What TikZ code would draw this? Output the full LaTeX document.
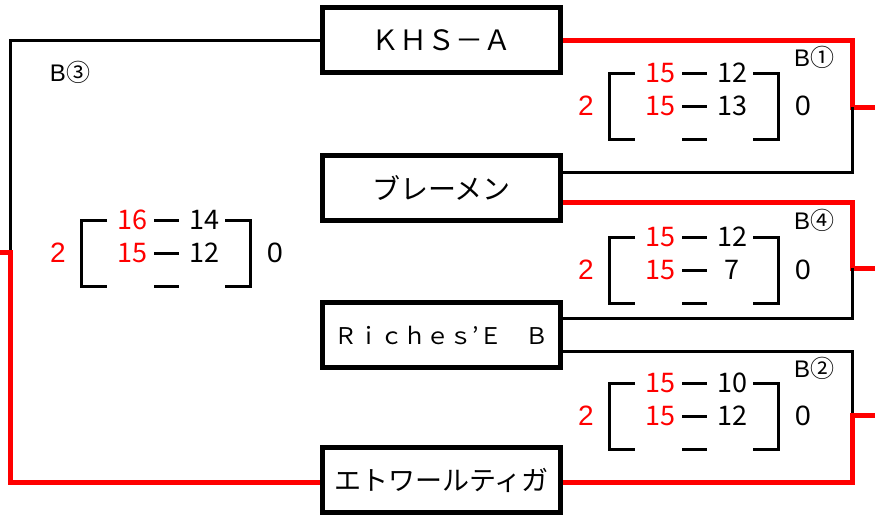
\documentclass[tikz,border=0pt]{standalone}
\usepackage{fontspec}
\setmainfont{Noto Sans CJK JP}
\newfontfamily\arialfont{Liberation Sans}
\tikzset{
  team/.style={draw, line width=5pt, minimum width=238pt, minimum height=65pt, inner sep=0pt},
  win/.style={draw=red, line width=5pt},
  lose/.style={draw=black, line width=3pt},
  frame/.style={draw=black, line width=3pt},
  pt/.style={inner sep=0pt, font=\fontsize{27}{28}\selectfont},
  tot/.style={inner sep=0pt, font=\arialfont\fontsize{28}{30}\selectfont},
  tag/.style={inner sep=0pt, font=\fontsize{24}{26}\selectfont}
}
\begin{document}
\begin{tikzpicture}[x=1pt, y=-1pt]
\useasboundingbox (0,0) rectangle (875,515);

\node[team, font=\fontsize{28}{30}\selectfont] (k) at (441.5,40) {ＫＨＳ－Ａ};
\node[team, font=\fontsize{28}{30}\selectfont] (b) at (441.5,187.5) {ブレーメン};
\node[team, font=\fontsize{23}{25}\selectfont] (r) at (441.5,335) {Ｒｉｃｈｅｓ’Ｅ　Ｂ};
\node[team, font=\fontsize{27}{29}\selectfont] (e) at (441.5,480) {エトワールティガ};

\coordinate (m1) at (852,107);
\coordinate (o1) at (875,107);
\coordinate (m4) at (852,268);
\coordinate (o4) at (875,268);
\coordinate (m2) at (852,415);
\coordinate (o2) at (875,415);
\coordinate (m3) at (10,252);
\coordinate (o3) at (0,252);

\draw[win] (k.east) -| (m1) -- (o1);
\draw[lose] ([yshift=15pt]b.east) -| (m1);
\draw[win] ([yshift=-15pt]b.east) -| (m4) -- (o4);
\draw[lose] ([yshift=17pt]r.east) -| (m4);
\draw[lose] ([yshift=-16pt]r.east) -| (m2);
\draw[win] ([yshift=-2pt]e.east) -| (m2) -- (o2);
\draw[lose] (k.west) -| (m3);
\draw[win] (o3) -- (m3) |- ([yshift=-2pt]e.west);

\begin{scope}[shift={(609,73)}]
\draw[frame] (26,0)--(0,0)--(0,66)--(26,66);
\draw[frame] (144,0)--(169,0)--(169,66)--(144,66);
\draw[frame] (73,0)--(98,0);
\draw[frame] (73,33)--(98,33);
\draw[frame] (73,66)--(98,66);
\node[pt, red] (a1) at (51,0) {15};
\node[pt] (b1) at (123,0) {12};
\node[pt, red] (c1) at (51,33) {15};
\node[pt] (d1) at (123,33) {13};
\node[tot, red] (w1) at (-23,33) {2};
\node[tot] (l1) at (194,33) {0};
\node[tag] (t1) at (205,-16) {{\arialfont B}①};
\end{scope}

\begin{scope}[shift={(609,237)}]
\draw[frame] (26,0)--(0,0)--(0,66)--(26,66);
\draw[frame] (144,0)--(169,0)--(169,66)--(144,66);
\draw[frame] (73,0)--(98,0);
\draw[frame] (73,33)--(98,33);
\draw[frame] (73,66)--(98,66);
\node[pt, red] (a4) at (51,0) {15};
\node[pt] (b4) at (123,0) {12};
\node[pt, red] (c4) at (51,33) {15};
\node[pt] (d4) at (123,33) {7};
\node[tot, red] (w4) at (-23,33) {2};
\node[tot] (l4) at (194,33) {0};
\node[tag] (t4) at (205,-17) {{\arialfont B}④};
\end{scope}

\begin{scope}[shift={(609,383)}]
\draw[frame] (26,0)--(0,0)--(0,66)--(26,66);
\draw[frame] (144,0)--(169,0)--(169,66)--(144,66);
\draw[frame] (73,0)--(98,0);
\draw[frame] (73,33)--(98,33);
\draw[frame] (73,66)--(98,66);
\node[pt, red] (a2) at (51,0) {15};
\node[pt] (b2) at (123,0) {10};
\node[pt, red] (c2) at (51,33) {15};
\node[pt] (d2) at (123,33) {12};
\node[tot, red] (w2) at (-23,33) {2};
\node[tot] (l2) at (194,33) {0};
\node[tag] (t2) at (205,-15) {{\arialfont B}②};
\end{scope}

\begin{scope}[shift={(81,220)}]
\draw[frame] (26,0)--(0,0)--(0,66)--(26,66);
\draw[frame] (144,0)--(169,0)--(169,66)--(144,66);
\draw[frame] (73,0)--(98,0);
\draw[frame] (73,33)--(98,33);
\draw[frame] (73,66)--(98,66);
\node[pt, red] (a3) at (51,0) {16};
\node[pt] (b3) at (123,0) {14};
\node[pt, red] (c3) at (51,33) {15};
\node[pt] (d3) at (123,33) {12};
\node[tot, red] (w3) at (-23,33) {2};
\node[tot] (l3) at (194,33) {0};
\node[tag] (t3) at (-11,-148) {{\arialfont B}③};
\end{scope}
\end{tikzpicture}
\end{document}
